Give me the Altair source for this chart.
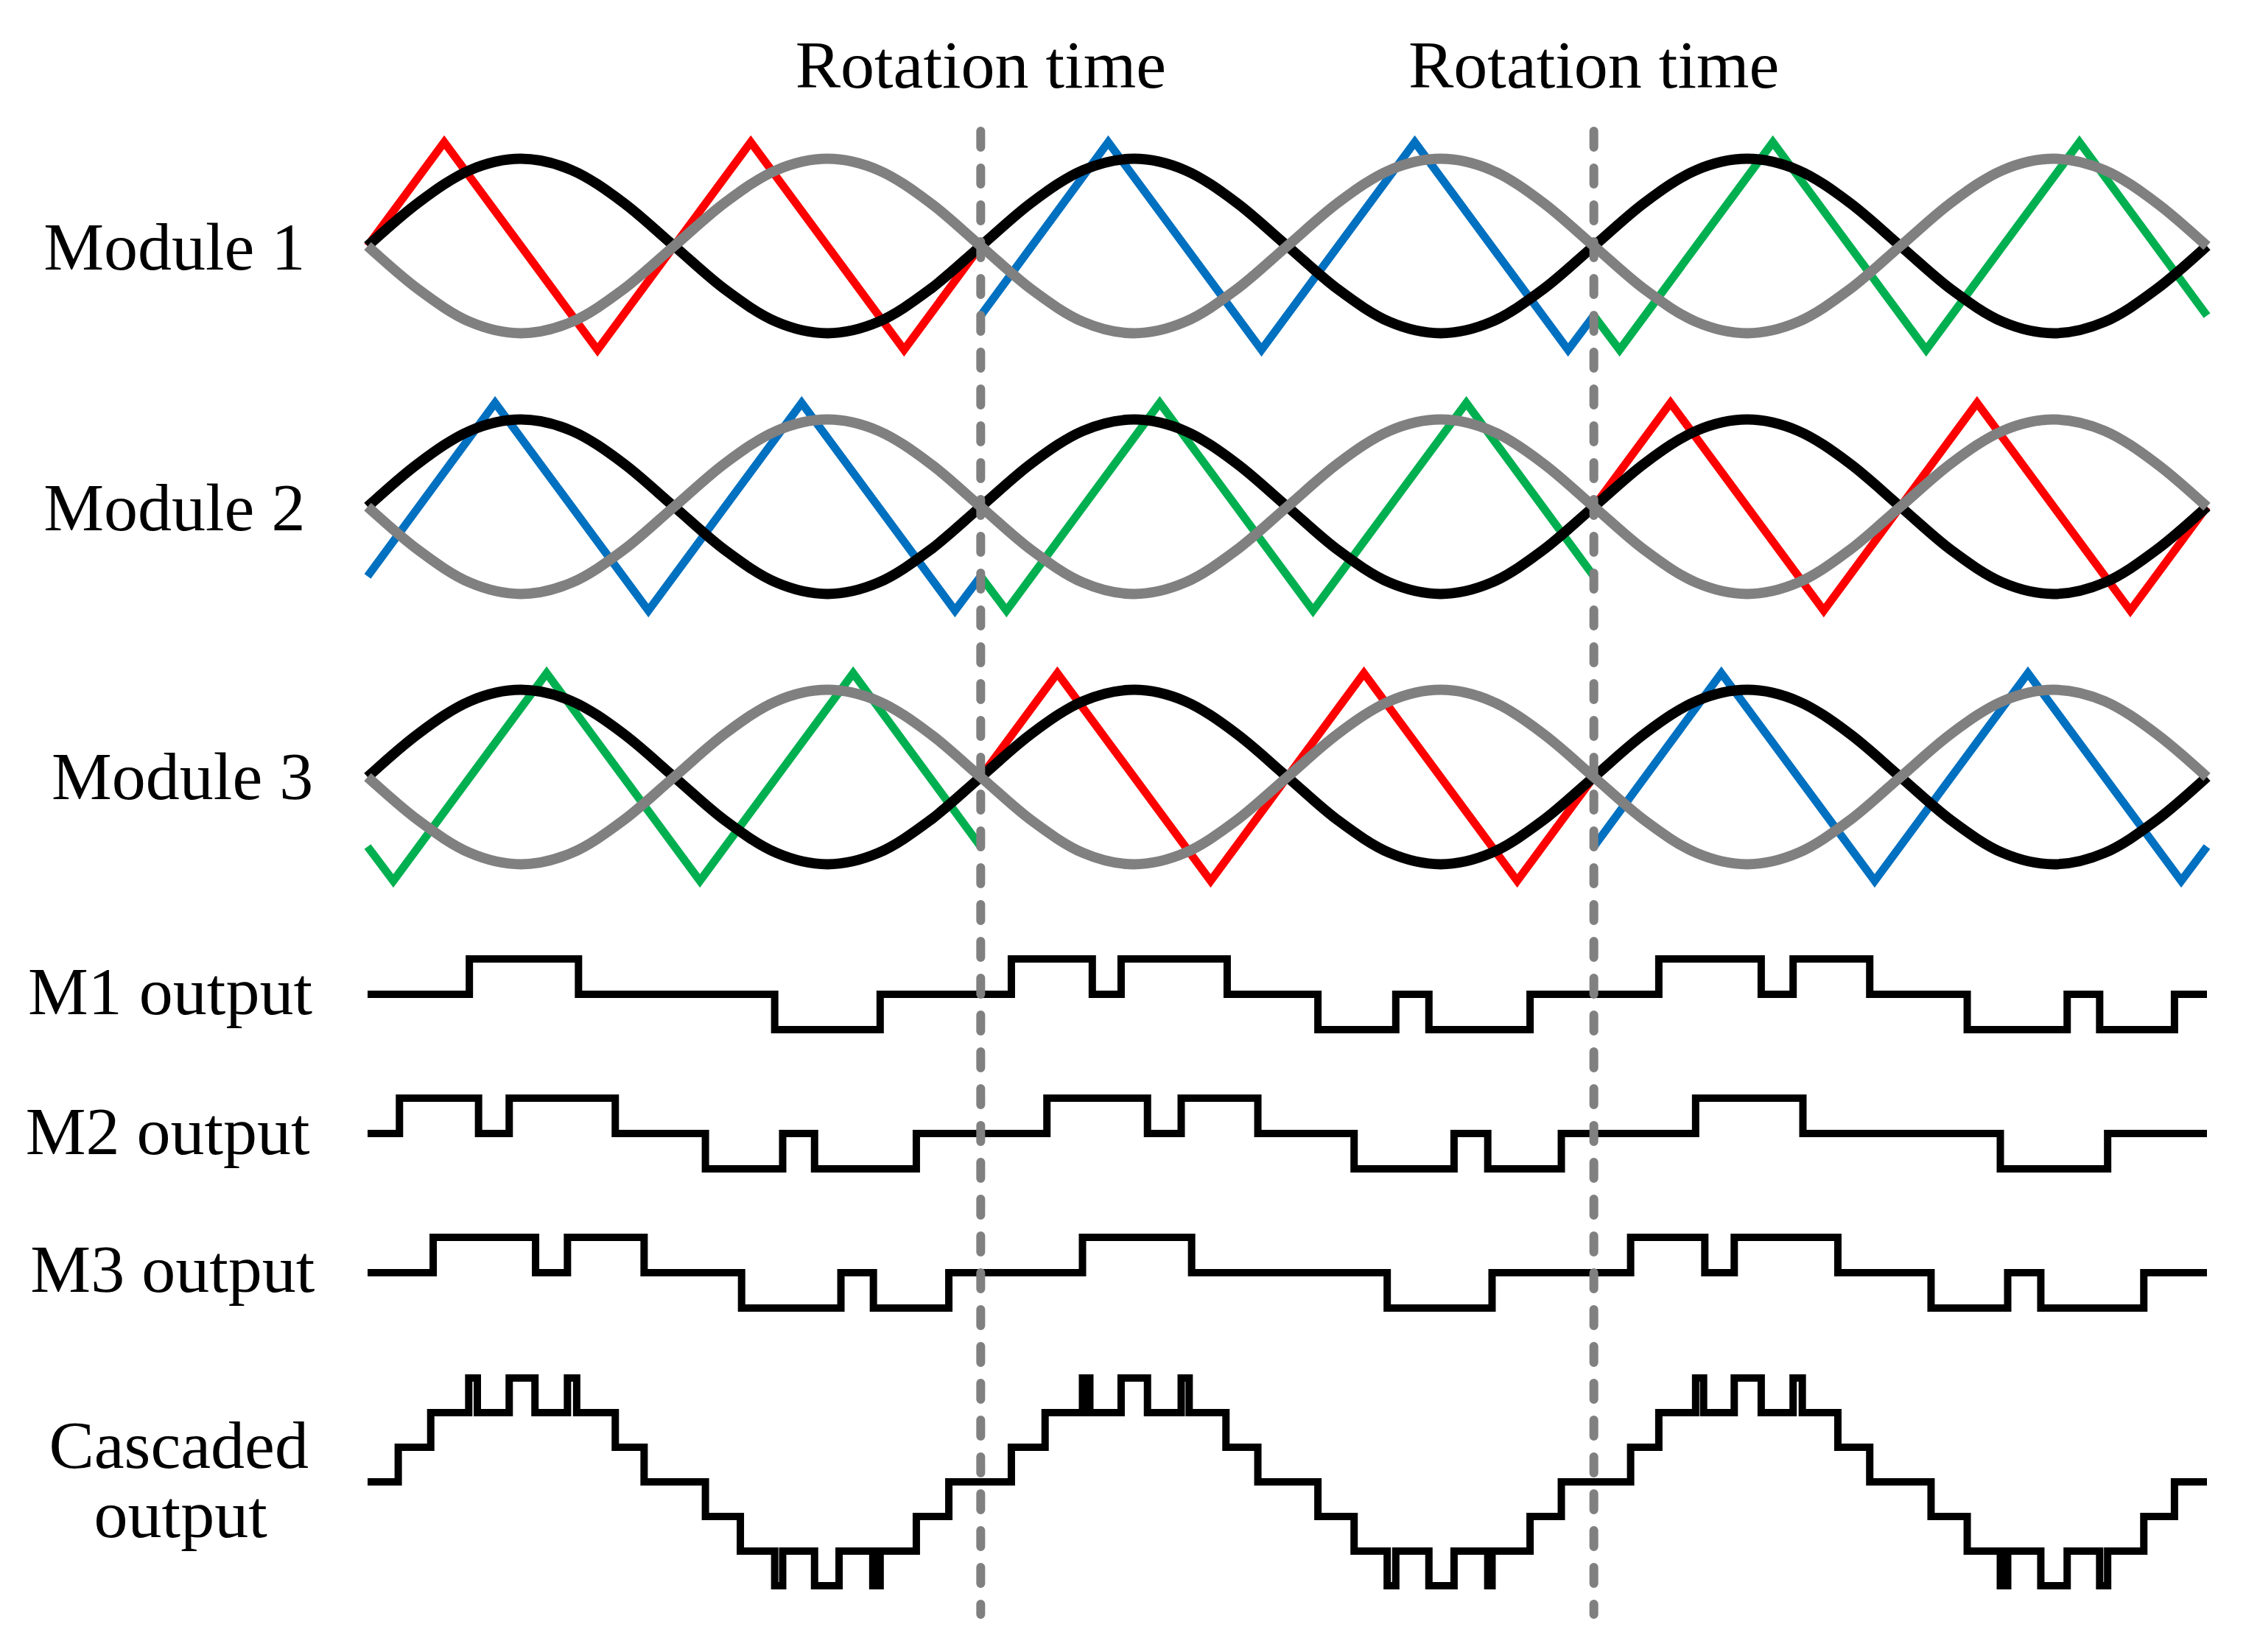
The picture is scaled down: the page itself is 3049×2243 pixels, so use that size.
import altair as alt
import pandas as pd

# ---------------- data ----------------
# time axis: one fundamental period = 1, three periods shown (rotation at t=1 and t=2)
sine_t = [round(k / 12, 4) for k in range(37)]
sine_black = [0, 0.42, 0.73, 0.84, 0.73, 0.42, 0, -0.42, -0.73, -0.84, -0.73, -0.42,
              0, 0.42, 0.73, 0.84, 0.73, 0.42, 0, -0.42, -0.73, -0.84, -0.73, -0.42,
              0, 0.42, 0.73, 0.84, 0.73, 0.42, 0, -0.42, -0.73, -0.84, -0.73, -0.42, 0]
sine_gray = [0, -0.42, -0.73, -0.84, -0.73, -0.42, 0, 0.42, 0.73, 0.84, 0.73, 0.42,
             0, -0.42, -0.73, -0.84, -0.73, -0.42, 0, 0.42, 0.73, 0.84, 0.73, 0.42,
             0, -0.42, -0.73, -0.84, -0.73, -0.42, 0, 0.42, 0.73, 0.84, 0.73, 0.42, 0]

# triangular carriers: vertex times / values
red_p1_t = [0, 0.125, 0.375, 0.625, 0.875, 1.0]
red_p2_t = [1.0, 1.125, 1.375, 1.625, 1.875, 2.0]
red_p3_t = [2.0, 2.125, 2.375, 2.625, 2.875, 3.0]
red_v = [0, 1, -1, 1, -1, 0]
blue_p1_t = [0, 0.208, 0.458, 0.708, 0.958, 1.0]
blue_p2_t = [1.0, 1.208, 1.458, 1.708, 1.958, 2.0]
blue_p3_t = [2.0, 2.208, 2.458, 2.708, 2.958, 3.0]
blue_v = [-0.67, 1, -1, 1, -1, -0.67]
green_p1_t = [0, 0.042, 0.292, 0.542, 0.792, 1.0]
green_p2_t = [1.0, 1.042, 1.292, 1.542, 1.792, 2.0]
green_p3_t = [2.0, 2.042, 2.292, 2.542, 2.792, 3.0]
green_v = [-0.67, -1, 1, -1, 1, -0.67]

modules = ["Module 1", "Module 2", "Module 3"]
module_carriers = {
    "Module 1": [("red", red_p1_t, red_v), ("blue", blue_p2_t, blue_v), ("green", green_p3_t, green_v)],
    "Module 2": [("blue", blue_p1_t, blue_v), ("green", green_p2_t, green_v), ("red", red_p3_t, red_v)],
    "Module 3": [("green", green_p1_t, green_v), ("red", red_p2_t, red_v), ("blue", blue_p3_t, blue_v)],
}

# module output levels (step after each time)
m1_t = [0, 0.166, 0.344, 0.664, 0.836, 1.050, 1.182, 1.229, 1.402, 1.550, 1.677, 1.731, 1.896,
        2.106, 2.273, 2.325, 2.450, 2.609, 2.772, 2.825, 2.947, 3.0]
m1_v = [0, 1, 0, -1, 0, 1, 0, 1, 0, -1, 0, -1, 0, 1, 0, 1, 0, -1, 0, -1, 0, 0]
m2_t = [0, 0.052, 0.181, 0.231, 0.404, 0.551, 0.677, 0.729, 0.895, 1.108, 1.272, 1.327, 1.452,
        1.609, 1.772, 1.827, 1.947, 2.166, 2.341, 2.663, 2.838, 3.0]
m2_v = [0, 1, 0, 1, 0, -1, 0, -1, 0, 1, 0, 1, 0, -1, 0, -1, 0, 1, 0, -1, 0, 0]
m3_t = [0, 0.107, 0.274, 0.326, 0.451, 0.610, 0.772, 0.825, 0.948, 1.166, 1.344, 1.663, 1.834,
        2.060, 2.181, 2.229, 2.398, 2.550, 2.675, 2.729, 2.897, 3.0]
m3_v = [0, 1, 0, 1, 0, -1, 0, -1, 0, 1, 0, -1, 0, 1, 0, 1, 0, -1, 0, -1, 0, 0]
cas_t = [0, 0.050, 0.103, 0.165, 0.179, 0.231, 0.273, 0.326, 0.341, 0.404, 0.451,
         0.551, 0.608, 0.664, 0.677, 0.729, 0.769, 0.824, 0.836, 0.895, 0.948,
         1.050, 1.105, 1.166, 1.178, 1.229, 1.272, 1.327, 1.340, 1.400, 1.452,
         1.550, 1.609, 1.663, 1.677, 1.731, 1.772, 1.827, 1.834, 1.896, 1.947,
         2.060, 2.106, 2.166, 2.179, 2.229, 2.273, 2.325, 2.340, 2.398, 2.450,
         2.550, 2.609, 2.663, 2.675, 2.729, 2.772, 2.825, 2.838, 2.897, 2.947, 3.0]
cas_v = [0, 1, 2, 3, 2, 3, 2, 3, 2, 1, 0,
         -1, -2, -3, -2, -3, -2, -3, -2, -1, 0,
         1, 2, 3, 2, 3, 2, 3, 2, 1, 0,
         -1, -2, -3, -2, -3, -2, -3, -2, -1, 0,
         1, 2, 3, 2, 3, 2, 3, 2, 1, 0,
         -1, -2, -3, -2, -3, -2, -3, -2, -1, 0, 0]

rotation_t = [1, 2]
row_labels = ["Module 1", "Module 2", "Module 3", "M1 output", "M2 output", "M3 output", "Cascaded", "output"]

# ---------------- layout (page pixel coordinates) ----------------
module_center = {"Module 1": 334, "Module 2": 688, "Module 3": 1055}
module_amp = 141
out_rows = [("M1", m1_t, m1_v, 1350, 48), ("M2", m2_t, m2_v, 1539, 48),
            ("M3", m3_t, m3_v, 1728, 48), ("Cas", cas_t, cas_v, 2012, 47)]
label_pos = {  # (t position of centre, baseline y)
    "Module 1": (-0.315, 366), "Module 2": (-0.315, 720), "Module 3": (-0.302, 1085),
    "M1 output": (-0.322, 1377), "M2 output": (-0.326, 1567), "M3 output": (-0.318, 1754),
    "Cascaded": (-0.308, 1993), "output": (-0.305, 2087),
}

# ---------------- tables ----------------
sine_rows = []
for m in modules:
    c = module_center[m]
    for i, (t, b, g) in enumerate(zip(sine_t, sine_black, sine_gray)):
        sine_rows.append({"t": t, "y": c - b * module_amp, "ser": m + "-black", "kind": "black", "i": i})
        sine_rows.append({"t": t, "y": c - g * module_amp, "ser": m + "-gray", "kind": "gray", "i": i})
sine_df = pd.DataFrame(sine_rows)

car_rows = []
for m in modules:
    c = module_center[m]
    for p, (col, ts, vs) in enumerate(module_carriers[m]):
        for i, (t, v) in enumerate(zip(ts, vs)):
            car_rows.append({"t": t, "y": c - v * module_amp, "ser": f"{m}-{p}", "carrier": col, "i": i})
car_df = pd.DataFrame(car_rows)

step_rows = []
for name, ts, vs, c, a in out_rows:
    for i, (t, v) in enumerate(zip(ts, vs)):
        step_rows.append({"t": t, "y": c - v * a, "ser": name, "i": i})
step_df = pd.DataFrame(step_rows)

rule_df = pd.DataFrame({"t": rotation_t, "y1": [178, 178], "y2": [2192, 2192]})
rot_text_df = pd.DataFrame({"t": rotation_t, "y": [119, 119], "txt": ["Rotation time", "Rotation time"]})
lab_df = pd.DataFrame({"txt": row_labels,
                       "t": [label_pos[l][0] for l in row_labels],
                       "y": [label_pos[l][1] for l in row_labels]})

# ---------------- chart ----------------
XS = alt.Scale(domain=[0, 3], range=[491, 2988], nice=False, zero=False)
YS = alt.Scale(domain=[8, 2235], range=[0, 2227], nice=False, zero=False)
X = alt.X("t:Q", scale=XS, axis=None)
Y = alt.Y("y:Q", scale=YS, axis=None)

carriers = alt.Chart(car_df).mark_line(strokeWidth=11, strokeJoin="miter").encode(
    x=X, y=Y, detail="ser:N", order="i:Q",
    color=alt.Color("carrier:N", legend=None,
                    scale=alt.Scale(domain=["red", "blue", "green"],
                                    range=["#FF0000", "#0070C0", "#00B050"])))

sines = alt.Chart(sine_df).mark_line(strokeWidth=14, interpolate="monotone").encode(
    x=X, y=Y, detail="ser:N", order="i:Q",
    color=alt.Color("kind:N", legend=None,
                    scale=alt.Scale(domain=["black", "gray"], range=["#000000", "#808080"])))

steps = alt.Chart(step_df).mark_line(strokeWidth=10, interpolate="step-after", color="black").encode(
    x=X, y=Y, detail="ser:N", order="i:Q")

rules = alt.Chart(rule_df).mark_rule(strokeWidth=12, color="#808080", strokeDash=[22, 28],
                                     strokeCap="round").encode(
    x=X, y=alt.Y("y1:Q", scale=YS, axis=None), y2="y2:Q")

rot_text = alt.Chart(rot_text_df).mark_text(font="Liberation Serif", fontSize=92, align="center",
                                            baseline="alphabetic", color="black").encode(
    x=X, y=Y, text="txt:N")

labels = alt.Chart(lab_df).mark_text(font="Liberation Serif", fontSize=92, align="center",
                                     baseline="alphabetic", color="black").encode(
    x=X, y=Y, text="txt:N")

chart = alt.layer(carriers, sines, steps, rules, rot_text, labels).properties(
    width=3033, height=2227, padding=0, autosize=alt.AutoSizeParams(type="none")
).configure_view(stroke=None).resolve_scale(color="independent")

chart.save("out.html", embed_options={"renderer": "svg", "actions": False})
